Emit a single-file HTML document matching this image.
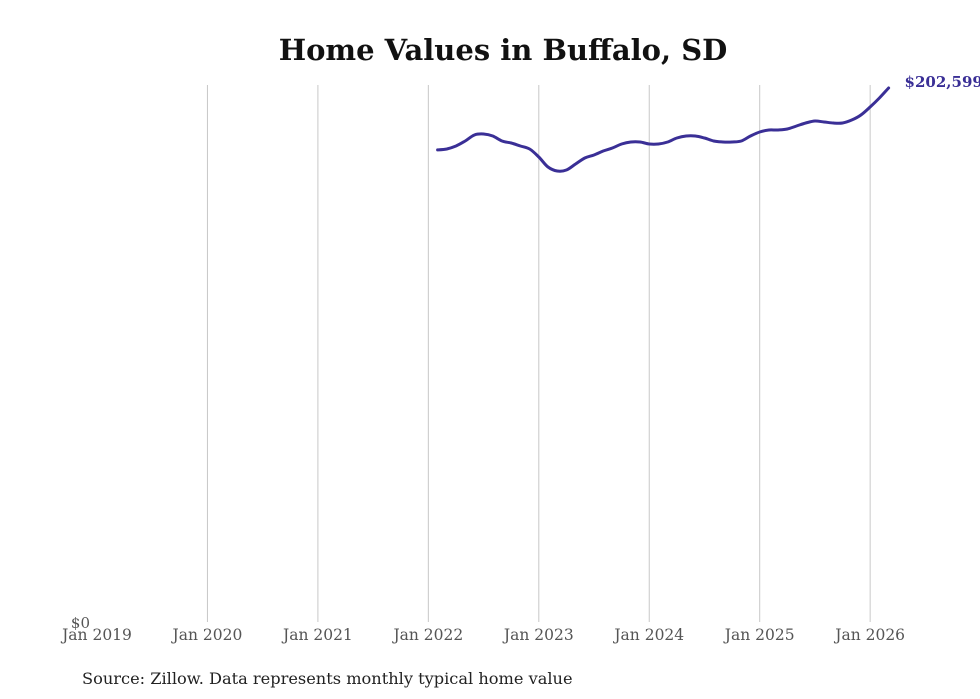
<!DOCTYPE html>
<html><head><meta charset="utf-8"><style>
body{margin:0;background:#fff;width:980px;height:699px;overflow:hidden}
svg{display:block}
</style></head><body>
<svg id="chart" width="980" height="699">
<text x="503" y="60" text-anchor="middle" font-family="'DejaVu Serif','Liberation Serif',serif" font-weight="bold" font-size="29" fill="#111">Home Values in Buffalo, SD</text>
<g id="grid"></g><g id="xticks"></g>
<text x="90" y="628" text-anchor="end" font-family="'DejaVu Serif','Liberation Serif',serif" font-size="15" fill="#555">$0</text>
<path id="line" fill="none" stroke="#3a2f96" stroke-width="3" stroke-linejoin="round" stroke-linecap="round"/>
<text id="endlabel" font-family="'DejaVu Serif','Liberation Serif',serif" font-weight="bold" font-size="15" fill="#3a2f96"></text>
<text x="82" y="684" font-family="'DejaVu Serif','Liberation Serif',serif" font-size="16.2" fill="#222">Source: Zillow. Data represents monthly typical home value</text>
</svg>
<script>
const tickYears=[2019,2020,2021,2022,2023,2024,2025,2026];
const tickLabels=["Jan 2019","Jan 2020","Jan 2021","Jan 2022","Jan 2023","Jan 2024","Jan 2025","Jan 2026"];
const startYear=2022, startMonth=1; // Feb 2022 (0-based month)
const values=[179100,179460,180590,182490,184770,185150,184390,182490,181730,180590,179460,
176420,172630,171110,171490,173770,176040,177180,178700,179840,181350,182110,182110,
181350,181350,182110,183630,184390,184390,183630,182490,182110,182110,182490,184390,
185910,186660,186660,187040,188180,189320,190080,189700,189320,189320,190460,192360,
195390,198810,202599];
const yMax=202599;
const NS="http://www.w3.org/2000/svg";
function xs(t){return 97+(t-2019)*110.45;}
function ys(v){return 622-v/yMax*534;}
const grid=document.getElementById('grid'),xt=document.getElementById('xticks');
tickYears.forEach((yr,i)=>{
 if(i>0){const l=document.createElementNS(NS,'line');
 l.setAttribute('x1',xs(yr));l.setAttribute('x2',xs(yr));l.setAttribute('y1',85);l.setAttribute('y2',622);
 l.setAttribute('stroke','#c8c8c8');l.setAttribute('stroke-width','1');
 
 
 grid.appendChild(l);}
 const t=document.createElementNS(NS,'text');
 t.setAttribute('x',xs(yr));t.setAttribute('y',640);t.setAttribute('text-anchor','middle');
 t.setAttribute('font-family',"'DejaVu Serif','Liberation Serif',serif");t.setAttribute('font-size','15.5');t.setAttribute('fill','#555');
 t.textContent=tickLabels[i];
 
 
 xt.appendChild(t);
});
const pts=values.map((v,i)=>[xs(startYear+(startMonth+i)/12),ys(v)]);
let d='M'+pts[0][0].toFixed(1)+','+pts[0][1].toFixed(1);
for(let i=0;i<pts.length-1;i++){
 const p0=pts[Math.max(0,i-1)],p1=pts[i],p2=pts[i+1],p3=pts[Math.min(pts.length-1,i+2)];
 const c1=[p1[0]+(p2[0]-p0[0])/6,p1[1]+(p2[1]-p0[1])/6],c2=[p2[0]-(p3[0]-p1[0])/6,p2[1]-(p3[1]-p1[1])/6];
 d+='C'+c1.map(n=>n.toFixed(1)).join(',')+' '+c2.map(n=>n.toFixed(1)).join(',')+' '+p2.map(n=>n.toFixed(1)).join(',');
}
document.getElementById('line').setAttribute('d',d);
const last=pts[pts.length-1];
const el=document.getElementById('endlabel');
el.setAttribute('x',last[0]+16);el.setAttribute('y',last[1]-1);
el.textContent='$'+values[values.length-1].toLocaleString('en-US');
</script>
</body></html>
